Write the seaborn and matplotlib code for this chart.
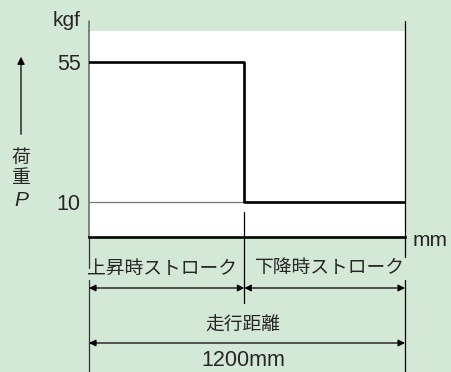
import numpy as np
import matplotlib
matplotlib.use("Agg")
import matplotlib.pyplot as plt
import seaborn as sns

# --- data ---
stroke_mm = [0, 590, 1200]        # 0 -> end of up stroke -> end of down stroke
load_kgf = [55, 10, 10]           # load held during each stroke
y_ticks = [10, 55]
up_label = "上昇時ストローク"
down_label = "下降時ストローク"
total_label = "走行距離"
total_value = "1200mm"

W, H = 451, 372
BG = "#d4e9d5"
JP = ["Noto Sans CJK JP", "DejaVu Sans"]

sns.set_style("white")
plt.rcParams["font.family"] = ["Liberation Sans", "Noto Sans CJK JP", "DejaVu Sans"]

fig = plt.figure(figsize=(W / 100, H / 100), dpi=100, facecolor=BG)
ax = fig.add_axes([89 / W, (H - 237) / H, 316 / W, 206 / H])
ax.set_facecolor("white")


def fx(px):
    return px / W


def fy(py):
    return 1 - py / H


def ay(py):
    # pixel row -> axes fraction
    return (237 - py) / 206


# thin reference line at 10 kgf (covered by the step on the right)
ax.axhline(10, color="#777777", lw=0.9, zorder=1)

df_x = np.array(stroke_mm)
sns.lineplot(x=df_x, y=load_kgf, drawstyle="steps-post", color="black",
             lw=1.9, ax=ax, zorder=3)

ax.set_xlim(stroke_mm[0], stroke_mm[-1])
ax.set_ylim(-1.25, 65)
ax.set_yticks(y_ticks)
ax.set_yticklabels([str(v) for v in y_ticks], fontsize=15.5)
ax.tick_params(axis="y", length=0, pad=6)
ax.set_xticks([])
ax.set_xlabel("")
ax.set_ylabel("")

for s in ["top", "right"]:
    ax.spines[s].set_visible(False)
ax.spines["left"].set_color("#707070")
ax.spines["left"].set_linewidth(1.2)
ax.spines["bottom"].set_color("black")
ax.spines["bottom"].set_linewidth(1.9)

xt = ax.get_xaxis_transform()
x0, xm, x1 = stroke_mm

# vertical guide lines extending outside the plot
ax.plot([x0, x0], [ay(21), 1], transform=xt, color="#707070", lw=1.2, clip_on=False)
ax.plot([x0, x0], [0, ay(268)], transform=xt, color="#333333", lw=0.9, clip_on=False)
ax.plot([x0, x0], [ay(280), ay(372)], transform=xt, color="#333333", lw=0.9, clip_on=False)
ax.plot([x1, x1], [ay(21), ay(257)], transform=xt, color="black", lw=0.9, clip_on=False)
ax.plot([x1, x1], [ay(280), ay(372)], transform=xt, color="black", lw=0.9, clip_on=False)
ax.plot([xm, xm], [ay(212), ay(303)], transform=xt, color="black", lw=0.9, clip_on=False)

# dimension arrows
arrow = dict(arrowstyle="<|-|>", color="black", lw=0.9, mutation_scale=10,
             shrinkA=0, shrinkB=0)
for a, b, py in [(x0, xm, 288), (xm, x1, 288), (x0, x1, 343)]:
    ax.annotate("", xy=(a, ay(py)), xytext=(b, ay(py)), xycoords=xt,
                textcoords=xt, arrowprops=arrow, annotation_clip=False)

# axis unit labels
fig.text(fx(81), fy(21), "kgf", ha="right", va="center", fontsize=15)
fig.text(fx(413), fy(240), "mm", ha="left", va="center", fontsize=15)

# left vertical arrow with 荷重 P
fig.add_artist(matplotlib.patches.FancyArrowPatch(
    (fx(21), fy(137)), (fx(21), fy(54)), transform=fig.transFigure,
    arrowstyle="-|>", mutation_scale=11, color="black", lw=0.9))
fig.text(fx(21), fy(157), "荷", ha="center", va="center", fontsize=13.5, family=JP)
fig.text(fx(21), fy(177), "重", ha="center", va="center", fontsize=13.5, family=JP)
fig.text(fx(21), fy(201), "P", ha="center", va="center", fontsize=15, style="italic")

# bottom labels
fig.text(fx(162), fy(268), up_label, ha="center", va="center", fontsize=13.5, family=JP)
fig.text(fx(330), fy(268), down_label, ha="center", va="center", fontsize=13.5, family=JP)
fig.text(fx(243), fy(325), total_label, ha="center", va="center", fontsize=13.5, family=JP)
fig.text(fx(243), fy(361), total_value, ha="center", va="center", fontsize=15.5)

fig.savefig("out.png", dpi=100, facecolor=BG)
